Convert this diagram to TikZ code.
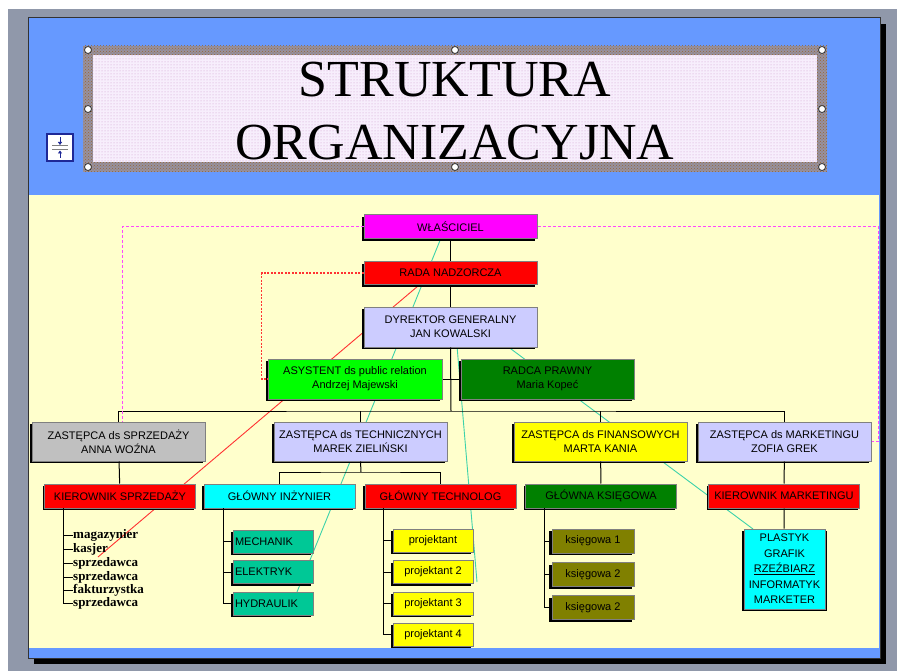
\documentclass[tikz,border=0pt]{standalone}
\usepackage{fontspec}
\setmainfont{Liberation Serif}
\setsansfont{Liberation Sans}
\usepackage{tikz}
\usetikzlibrary{arrows.meta,shadows,patterns}
\definecolor{slideblue}{RGB}{102,153,255}
\definecolor{slidecream}{RGB}{255,255,204}
\definecolor{framegrey}{RGB}{144,152,170}
\definecolor{boxlav}{RGB}{204,204,255}
\definecolor{boxmag}{RGB}{255,0,255}
\definecolor{boxred}{RGB}{255,0,0}
\definecolor{boxyellow}{RGB}{255,255,0}
\definecolor{boxcyan}{RGB}{0,255,255}
\definecolor{boxgreen}{RGB}{0,255,0}
\definecolor{boxdkgreen}{RGB}{0,128,0}
\definecolor{boxgrey}{RGB}{192,192,192}
\definecolor{boxteal}{RGB}{0,200,150}
\definecolor{boxolive}{RGB}{128,128,0}
\definecolor{tealline}{RGB}{60,210,170}
\definecolor{redline}{RGB}{255,50,50}
\definecolor{pinkline}{RGB}{255,70,255}
\definecolor{iconblue}{RGB}{30,40,150}
\definecolor{bandgrey}{RGB}{150,145,160}
\definecolor{titlefill}{RGB}{247,238,252}

\begin{document}
\begin{tikzpicture}[x=1pt,y=-1pt,
  orgbox/.style={draw=gray,line width=1pt,inner sep=1pt,align=center,
    font=\sffamily\fontsize{11}{14}\selectfont,
    general shadow={fill=black,shadow xshift=-2pt,shadow yshift=-2pt}},
  bigbox/.style={orgbox,minimum width=173pt,minimum height=40pt},
  midbox/.style={orgbox,minimum width=151pt,minimum height=24pt},
  smallbox/.style={orgbox,minimum width=80pt,minimum height=23pt},
  listitem/.style={anchor=west,inner sep=0pt,font=\rmfamily\bfseries\fontsize{13}{14}\selectfont},
  stroke/.style={line width=0.9pt},
  link/.style={line width=1pt}]
\useasboundingbox (0,0) rectangle (897,671);
% slide and window
\fill[white] (0,0) rectangle (897,671);
\fill[framegrey] (8,9) rectangle (897,671);
\fill[black] (34,24) rectangle (886,664);
\fill[slideblue] (28,18) rectangle (880,658);
\fill[slidecream] (29,195) rectangle (879,648);
\draw[black!80,line width=1pt] (28,18) rectangle (880,658);
% title frame
\fill[bandgrey] (83,46) rectangle (827,172);
\fill[pattern=crosshatch dots,pattern color=brown!80!black] (83,46) rectangle (827,172);
\fill[titlefill] (93,55) rectangle (817,162);
\fill[pattern=dots,pattern color=violet!40] (93,55) rectangle (817,162);
\foreach \hx/\hy in {88/50,455/50,822/50,88/109,822/109,88/167,455/167,822/167}
  \draw[fill=white,draw=black!80,line width=0.8pt] (\hx,\hy) circle[radius=3.5pt];
\node[font=\fontsize{52}{63}\selectfont,align=center,inner sep=0pt] (title) at (455,111) {STRUKTURA\\ORGANIZACYJNA};
% autofit icon
\draw[iconblue,line width=1.5pt,fill=white] (47,134) rectangle (73,161);
\draw[gray,line width=1pt] (52,146) -- (68,146) (52,149.5) -- (68,149.5);
\draw[iconblue,line width=1pt,-{Triangle[length=3pt,width=4pt]}] (60,137) -- (60,145);
\draw[iconblue,line width=1pt,-{Triangle[length=3pt,width=4pt]}] (60,158) -- (60,150.5);

% free strokes behind the chart
\coordinate (redA) at (418,286);
\coordinate (redB) at (98,557);
\coordinate (tealA) at (441,238);
\coordinate (tealB) at (297,592);
\coordinate (tealC) at (457,346);
\coordinate (tealD) at (477,582);
\coordinate (tealE) at (507,346);
\coordinate (tealF) at (753,529);
\draw[stroke,redline] (redA) -- (redB);
\draw[stroke,tealline] (tealA) -- (tealB);
\draw[stroke,tealline] (tealC) -- (tealD);
\draw[stroke,tealline] (tealE) -- (tealF);

% top of the chart
\node[bigbox,fill=boxmag,minimum height=24pt] (wlasc) at (450.5,227) {WŁAŚCICIEL};
\node[bigbox,fill=boxred,minimum height=23pt] (rada) at (450.5,273) {RADA NADZORCZA};
\node[bigbox,fill=boxlav] (dyr) at (450.5,327) {DYREKTOR GENERALNY\\JAN KOWALSKI};
\node[bigbox,fill=boxgreen,minimum width=174pt] (asyst) at (355,379) {ASYSTENT ds public relation\\Andrzej Majewski};
\node[bigbox,fill=boxdkgreen] (radca) at (547.5,379) {RADCA PRAWNY\\Maria Kopeć};

% deputies
\node[bigbox,fill=boxgrey,minimum height=39pt] (zsprz) at (118.5,441.5) {ZASTĘPCA ds SPRZEDAŻY\\ANNA WOŹNA};
\node[bigbox,fill=boxlav,minimum height=39pt] (ztech) at (360.5,441.5) {ZASTĘPCA ds TECHNICZNYCH\\MAREK ZIELIŃSKI};
\node[bigbox,fill=boxyellow,minimum height=39pt] (zfin) at (600.5,441.5) {ZASTĘPCA ds FINANSOWYCH\\MARTA KANIA};
\node[bigbox,fill=boxlav,minimum height=39pt] (zmark) at (784.5,441.5) {ZASTĘPCA ds MARKETINGU\\ZOFIA GREK};

% heads
\node[midbox,fill=boxred] (ksprz) at (120,496) {KIEROWNIK SPRZEDAŻY};
\node[midbox,fill=boxcyan] (ginz) at (279.5,496) {GŁÓWNY INŻYNIER};
\node[midbox,fill=boxred] (gtech) at (440.5,496) {GŁÓWNY TECHNOLOG};
\node[midbox,fill=boxdkgreen] (gksieg) at (601,496) {GŁÓWNA KSIĘGOWA};
\node[midbox,fill=boxred] (kmark) at (784,496) {KIEROWNIK MARKETINGU};

% staff
\foreach \n/\y/\t in {it1/535/magazynier,it2/549/kasjer,it3/563/sprzedawca,it4/577/sprzedawca,it5/590/fakturzystka,it6/603/sprzedawca}
  \node[listitem] (\n) at (73,\y) {\t};
\foreach \n/\y/\t in {mech/541.5/MECHANIK,elek/572/ELEKTRYK,hydr/603.5/HYDRAULIK}
  \node[smallbox,fill=boxteal,text width=76pt,align=left,inner xsep=2pt] (\n) at (273,\y) {\t};
\foreach \n/\y/\t in {proj1/540.5/projektant,proj2/572/projektant 2,proj3/603.5/projektant 3,proj4/634.5/projektant 4}
  \node[smallbox,fill=boxyellow] (\n) at (433,\y) {\t};
\foreach \n/\y/\t in {ks1/541/księgowa 1,ks2/574.5/księgowa 2,ks3/607.5/księgowa 2}
  \node[smallbox,fill=boxolive,minimum width=82pt,minimum height=24pt,
    general shadow={fill=black,shadow xshift=-3pt,shadow yshift=-2pt}] (\n) at (593,\y) {\t};
\node[orgbox,fill=boxcyan,minimum width=81pt,minimum height=80pt,
  font=\sffamily\fontsize{11}{15.5}\selectfont,
  general shadow={fill=black,shadow xshift=2pt,shadow yshift=-2pt}] (plast) at (784.5,569)
  {PLASTYK\\GRAFIK\\\underline{RZEŹBIARZ}\\INFORMATYK\\MARKETER};

% connectors
\coordinate (bus) at (451,411);
\coordinate (techbus) at (361,472);
\coordinate (kslist) at (63,508);
\coordinate (ginzline) at (223,508);
\coordinate (gtechline) at (383,508);
\coordinate (gksline) at (544,508);
\draw[link] (wlasc) -- (rada);
\draw[link] (rada) -- (dyr);
\draw[link] (dyr.south) -- (bus);
\draw[link] (asyst.east) -- (radca.west);
\draw[link] (zsprz.north) |- (bus) -| (zmark.north);
\draw[link] (bus -| ztech.north) -- (ztech.north);
\draw[link] (bus -| zfin.north) -- (zfin.north);
\draw[link] (ztech.south) -- (techbus);
\draw[link] (ginz.north) |- (techbus) -| (gtech.north);
\draw[link] (zsprz) -- (ksprz);
\draw[link] (zfin) -- (gksieg);
\draw[link] (zmark) -- (kmark);
\draw[link] (kmark) -- (plast);
\draw[link] (kslist) |- (it6.west);
\foreach \n in {it1,it2,it3,it4,it5}
  \draw[link] (kslist |- \n.west) -- (\n.west);
\draw[link] (ginzline) |- (hydr.west);
\foreach \n in {mech,elek}
  \draw[link] (ginzline |- \n.west) -- (\n.west);
\draw[link] (gtechline) |- (proj4.west);
\foreach \n in {proj1,proj2,proj3}
  \draw[link] (gtechline |- \n.west) -- (\n.west);
\draw[link] (gksline) |- (ks3.west);
\foreach \n in {ks1,ks2}
  \draw[link] (gksline |- \n.west) -- (\n.west);

% dotted links
\draw[pinkline,line width=1pt,dash pattern=on 3pt off 2pt] (wlasc.west) -| ([xshift=3.5pt]zsprz.north);
\draw[pinkline,line width=1pt,dash pattern=on 3pt off 2pt] (wlasc.east) -| ([xshift=7pt]zmark.east) -- (zmark.east);
\draw[redline,line width=1.2pt,dash pattern=on 2pt off 1.5pt] (rada.west) -| ([xshift=-6pt]asyst.west) -- (asyst.west);
\end{tikzpicture}
\end{document}
